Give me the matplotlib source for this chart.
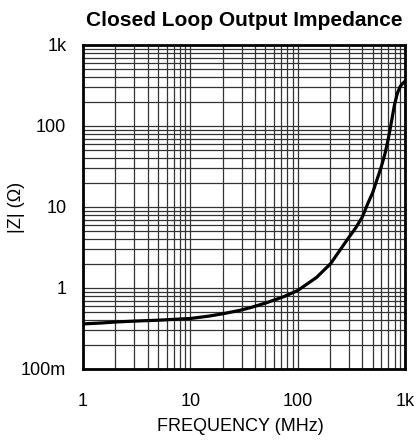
import matplotlib
matplotlib.use("Agg")
import matplotlib.pyplot as plt
from matplotlib.ticker import FixedLocator, NullFormatter, LogLocator

plt.rcParams["font.family"] = ["Liberation Sans", "DejaVu Sans"]

# frequency (MHz) and |Z| (ohm)
freq_mhz = [1, 1.5, 2, 3, 5, 7, 10, 15, 20, 29, 36, 50, 74, 100, 150, 203,
            280, 350, 400, 450, 500, 550, 600, 650, 700, 750, 800, 850,
            900, 950, 1000]
z_ohm = [0.36, 0.37, 0.38, 0.39, 0.40, 0.41, 0.42, 0.45, 0.48, 0.53, 0.57,
         0.65, 0.78, 0.93, 1.35, 2.0, 3.7, 5.6, 7.5, 11, 15, 22, 31, 45,
         70, 115, 185, 255, 305, 335, 355]

x_ticks = [1, 10, 100, 1000]
x_labels = ["1", "10", "100", "1k"]
y_ticks = [0.1, 1, 10, 100, 1000]
y_labels = ["100m", "1", "10", "100", "1k"]

fig = plt.figure(figsize=(4.16, 4.41), dpi=100)
ax = fig.add_axes([0.1995, 0.1633, 0.774, 0.7347])

ax.set_xscale("log")
ax.set_yscale("log")
ax.set_xlim(1, 1000)
ax.set_ylim(0.1, 1000)

ax.plot(freq_mhz, z_ohm, color="black", linewidth=2.3, solid_capstyle="round")

ax.xaxis.set_major_locator(FixedLocator(x_ticks))
ax.yaxis.set_major_locator(FixedLocator(y_ticks))
ax.xaxis.set_minor_locator(LogLocator(base=10, subs=range(2, 10)))
ax.yaxis.set_minor_locator(LogLocator(base=10, subs=range(2, 10)))
ax.xaxis.set_minor_formatter(NullFormatter())
ax.yaxis.set_minor_formatter(NullFormatter())
ax.set_xticklabels(x_labels)
ax.set_yticklabels(y_labels)

ax.grid(True, which="both", color="#333333", linewidth=0.9)
ax.tick_params(which="both", length=0, labelsize=13)
ax.tick_params(axis="x", pad=17)
ax.tick_params(axis="y", pad=12)

for s in ax.spines.values():
    s.set_linewidth(2)
    s.set_color("black")

ax.set_xlabel("FREQUENCY (MHz)", fontsize=13)
ax.set_ylabel("|Z| (Ω)", fontsize=13)
ax.xaxis.set_label_coords(0.49, -0.15)
ax.yaxis.set_label_coords(-0.18, 0.5)
ax.set_title("Closed Loop Output Impedance", fontsize=15, fontweight="bold", pad=14)

fig.savefig("out.png", dpi=100)
